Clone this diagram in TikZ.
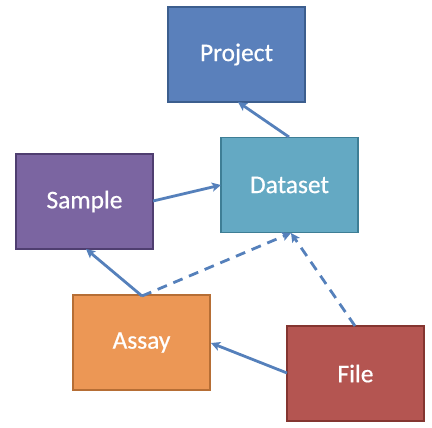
\documentclass[tikz,border=0pt]{standalone}
\usepackage{fontspec}
\setmainfont{Carlito}
\usetikzlibrary{arrows.meta}
\definecolor{projfill}{HTML}{5A80BB}
\definecolor{projdraw}{HTML}{3C5E8E}
\definecolor{datafill}{HTML}{64A9C3}
\definecolor{datadraw}{HTML}{3E7E95}
\definecolor{sampfill}{HTML}{7B65A1}
\definecolor{sampdraw}{HTML}{4F3E70}
\definecolor{assfill}{HTML}{EC9755}
\definecolor{assdraw}{HTML}{B66E35}
\definecolor{filefill}{HTML}{B45551}
\definecolor{filedraw}{HTML}{843530}
\definecolor{arrowcol}{HTML}{5580BB}
\tikzset{
  entity/.style={draw, line width=1.3bp, minimum width=137bp, minimum height=95bp,
    inner sep=0pt, text=white, font=\fontsize{25.5}{30}\selectfont},
  link/.style={draw=arrowcol, line width=2.8bp, -{Stealth[length=9bp,width=9bp,inset=2bp]}},
  dashlink/.style={link, dash pattern=on 10bp off 7bp}
}
\begin{document}
\begin{tikzpicture}[x=1bp,y=-1bp]
\useasboundingbox (0,0) rectangle (432,428);
\node[entity, fill=projfill, draw=projdraw] (project) at (236.5,54.5) {\addfontfeature{FakeBold=0.6}Project};
\node[entity, fill=datafill, draw=datadraw] (dataset) at (289.5,185) {\addfontfeature{FakeBold=0.6}Dataset};
\node[entity, fill=sampfill, draw=sampdraw] (sample) at (84.5,201.5) {\addfontfeature{FakeBold=0.6}Sample};
\node[entity, fill=assfill, draw=assdraw] (assay) at (141.5,342.5) {\addfontfeature{FakeBold=0.6}Assay};
\node[entity, fill=filefill, draw=filedraw] (file) at (355.5,373.5) {\addfontfeature{FakeBold=0.6}File};
\coordinate (dsTop) at (289,137);
\coordinate (prBot) at (238,102);
\coordinate (smRight) at (153,201);
\coordinate (dsLeft) at (221,185);
\coordinate (asTop) at (142,296);
\coordinate (smBot) at (86,249);
\coordinate (dsBot) at (291,233);
\coordinate (flTop) at (355,326);
\coordinate (flLeft) at (287,373);
\coordinate (asRight) at (211,343);
\draw[link] (dsTop) -- (prBot);
\draw[link] (smRight) -- (dsLeft);
\draw[link] (asTop) -- (smBot);
\draw[dashlink] (asTop) -- (dsBot);
\draw[dashlink] (flTop) -- (dsBot);
\draw[link] (flLeft) -- (asRight);
\end{tikzpicture}
\end{document}
